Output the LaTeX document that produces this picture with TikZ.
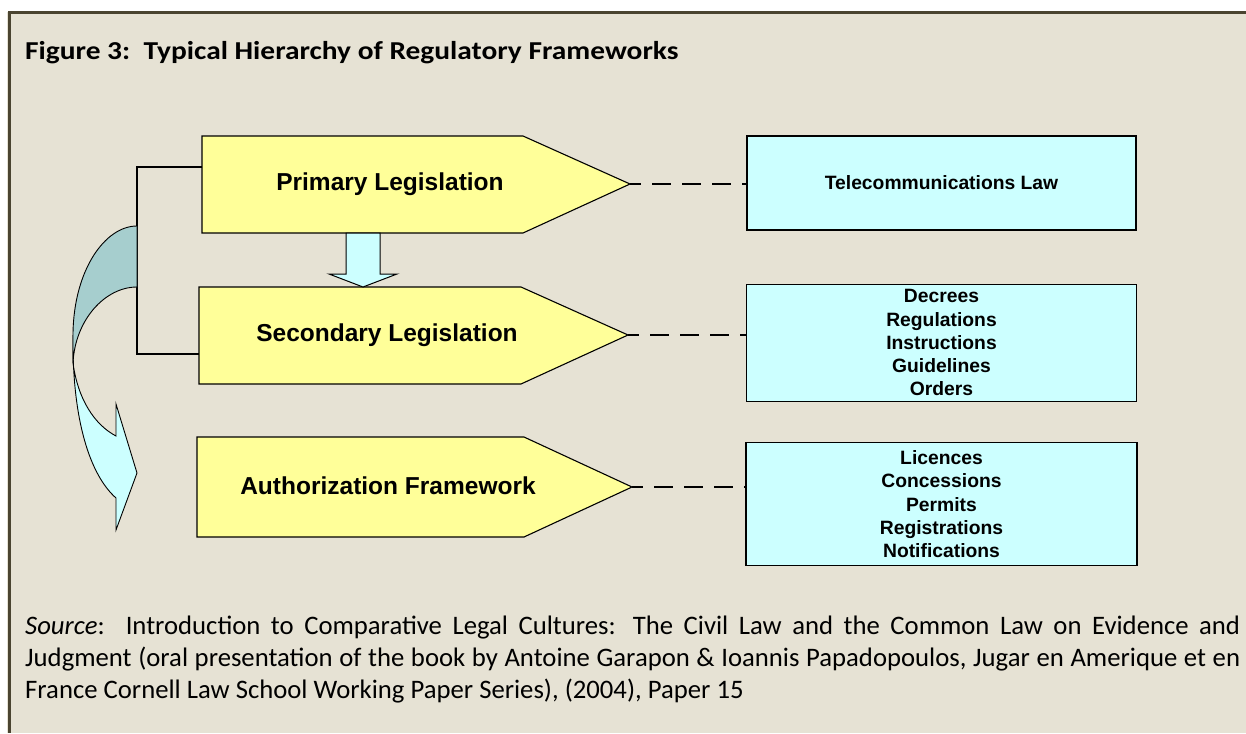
\documentclass[tikz,border=0pt]{standalone}
\usepackage{fontspec}
\setmainfont{Carlito}
\newfontfamily\widefont[FakeStretch=1.14]{Carlito}
\newfontfamily\arialfont{Liberation Sans}
\usetikzlibrary{positioning, calc}
\definecolor{panelbg}{HTML}{E6E2D4}
\definecolor{framecol}{HTML}{4A4430}
\definecolor{legyellow}{HTML}{FFFF99}
\definecolor{boxcyan}{HTML}{CCFFFF}
\definecolor{curveteal}{HTML}{A6CECE}
\newcommand\legfont{\arialfont\bfseries\fontsize{24.5}{29}\selectfont}
\newcommand\listfont{\arialfont\bfseries\fontsize{19.3}{23.3}\selectfont}

\begin{document}
\begin{tikzpicture}[x=1pt, y=-1pt,
  legshape/.style={draw=black, line width=1.1pt, fill=legyellow},
  legtext/.style={font=\legfont, inner sep=0pt},
  listbox/.style={draw=black, line width=1.3pt, fill=boxcyan, align=center,
    inner sep=0pt, font=\listfont},
  dashline/.style={line width=2.4pt, dash pattern=on 19pt off 11pt, dash phase=8pt},
  bracket/.style={line width=2pt}]

\useasboundingbox (0,0) rectangle (1246,733);
\fill[white] (0,0) rectangle (1246,733);
\fill[panelbg] (7,12) rectangle (1246,733);
\draw[framecol, line width=3pt] (1246,13) -- (9,13) -- (9,733);

\node[anchor=base west, inner sep=0pt, font=\widefont\bfseries\fontsize{25.8}{30}\selectfont]
  (title) at (25,60) {Figure 3:\ \ Typical Hierarchy of Regulatory Frameworks};

% left hand pentagons
\draw[legshape] (202,136) -- (523,136) -- (630,184) -- (523,233) -- (202,233) -- cycle;
\draw[legshape] (199,287) -- (521,287) -- (628,335) -- (521,384) -- (199,384) -- cycle;
\draw[legshape] (197,437) -- (524,437) -- (632,487) -- (524,537) -- (197,537) -- cycle;
\coordinate (primtip) at (630,184);
\coordinate (sectip) at (628,335);
\coordinate (authtip) at (632,487);
\node[legtext] (prim) at (390,184) {Primary Legislation};
\node[legtext] (sec) at (387,335) {Secondary Legislation};
\node[legtext] (auth) at (388,486) {Authorization Framework};

% block arrow between the first two
\draw[fill=boxcyan, line width=1pt] (346,233) -- (380,233) -- (380,274) -- (397,274)
  -- (363,287) -- (329,274) -- (346,274) -- cycle;

% bracket and curved arrow
\draw[bracket] (202,167) -- (137,167) -- (137,354) -- (199,354);
\draw[fill=boxcyan, line width=0.9pt] (73,335) .. controls (72,420) and (90,475) .. (116,498)
  -- (116,530) -- (137,473) -- (116,404) -- (116,436)
  .. controls (95,425) and (78,400) .. (73,363) -- cycle;
\draw[fill=curveteal, line width=0.9pt] (137,226) .. controls (105,226) and (74,270) .. (73,333)
  -- (73,363) .. controls (75,320) and (105,287) .. (137,287) -- cycle;

% right hand boxes
\node[listbox, minimum width=389pt, minimum height=94pt] (telecom) at (941.5,183)
  {Telecommunications Law};
\node[listbox, minimum width=390pt, minimum height=117pt, below=53pt of telecom] (decrees)
  {Decrees\\Regulations\\Instructions\\Guidelines\\Orders};
\node[listbox, minimum width=391pt, minimum height=123pt, below=40pt of decrees] (licences)
  {Licences\\Concessions\\Permits\\Registrations\\Notifications};

\draw[dashline] (primtip) -- (primtip -| telecom.west);
\draw[dashline] (sectip) -- (sectip -| decrees.west);
\draw[dashline] (authtip) -- (authtip -| licences.west);

\node[anchor=base west, inner sep=0pt, text width=1215pt, align=justify,
  font=\fontsize{26.7}{32}\selectfont] (source) at (25,634)
  {\textit{Source}:\ \ Introduction to Comparative Legal Cultures: The Civil Law and the Common Law on Evidence and\linebreak
  Judgment (oral presentation of the book by Antoine Garapon \& Ioannis Papadopoulos, Jugar en Amerique et en\linebreak
  France Cornell Law School Working Paper Series), (2004), Paper 15};

\end{tikzpicture}
\end{document}
